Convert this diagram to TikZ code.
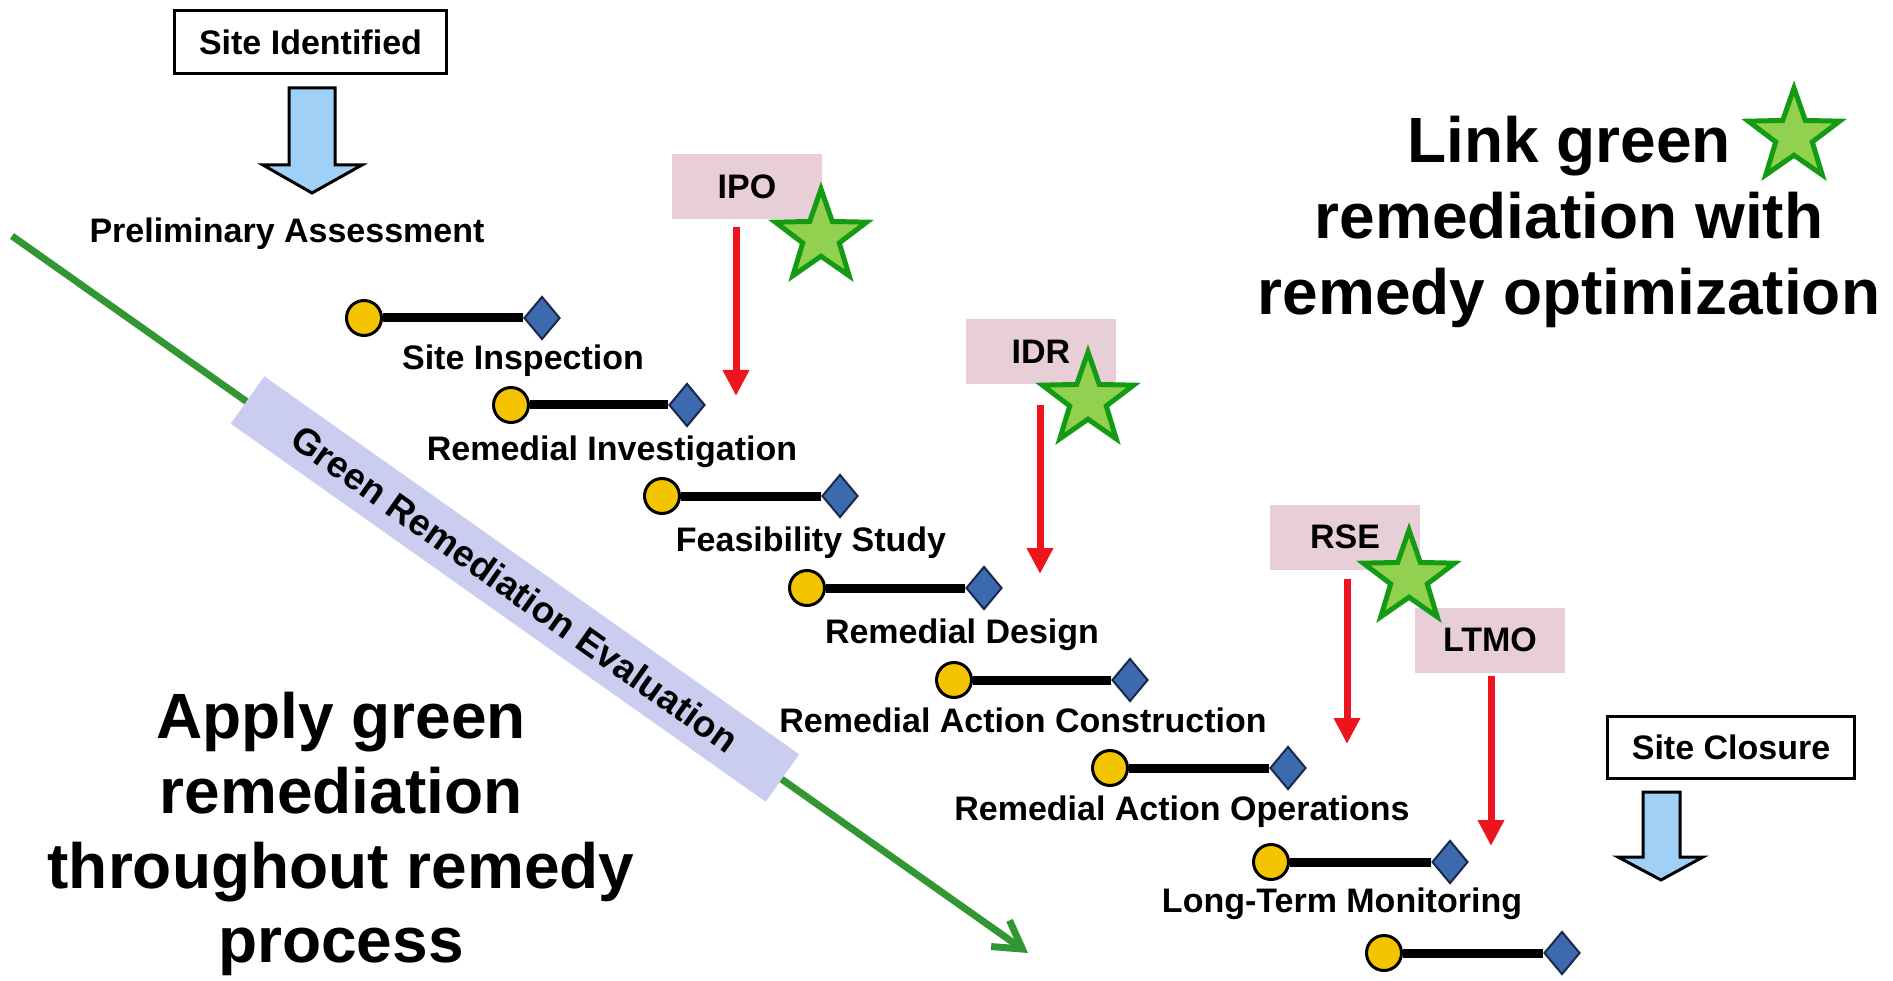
\documentclass[tikz,border=0pt]{standalone}
\usepackage{fontspec}
\setmainfont{Liberation Sans}
\usetikzlibrary{shapes.geometric,arrows.meta}
\definecolor{gold}{RGB}{245,196,0}
\definecolor{steel}{RGB}{61,106,175}
\definecolor{navyline}{RGB}{25,40,75}
\definecolor{tagpink}{RGB}{232,206,214}
\definecolor{bandcol}{RGB}{203,205,240}
\definecolor{glinecol}{RGB}{50,150,50}
\definecolor{starfill}{RGB}{146,208,80}
\definecolor{starline}{RGB}{20,155,20}
\definecolor{arrred}{RGB}{238,20,30}
\definecolor{arrblue}{RGB}{160,208,245}
\begin{document}
\begin{tikzpicture}[x=1pt,y=-1pt,
  lbl/.style={font=\fontsize{34}{40}\selectfont\bfseries, inner sep=0pt, anchor=base},
  big/.style={font=\fontsize{64}{76}\selectfont\bfseries, inner sep=0pt, anchor=base},
  frame/.style={draw=black, line width=3pt, fill=white, inner sep=0pt, font=\fontsize{34}{40}\selectfont\bfseries},
  tagbox/.style={fill=tagpink, minimum width=150pt, minimum height=65pt, inner sep=0pt, font=\fontsize{34}{40}\selectfont\bfseries},
  mscirc/.style={circle, draw=black, line width=3pt, fill=gold, minimum size=35pt, inner sep=0pt},
  msdiam/.style={diamond, draw=navyline, line width=2pt, fill=steel, minimum width=36pt, minimum height=43pt, inner sep=0pt},
  msbar/.style={line width=9pt, draw=black},
  gstar/.style={star, star points=5, star point ratio=2.5, minimum size=96pt, inner sep=0pt, fill=starfill, draw=starline, line width=5pt},
  redarr/.style={draw=arrred, line width=7pt, -{Triangle[length=26pt,width=25pt]}},
  blockarr/.style={draw=black, line width=3pt, fill=arrblue, line join=miter},
  band/.style={fill=bandcol, minimum width=655pt, minimum height=58pt, inner sep=0pt, font=\fontsize{37}{42}\selectfont\bfseries},
  greenarr/.style={draw=glinecol, line width=7pt, -{Straight Barb[length=27pt,width=32pt]}}
]
\useasboundingbox (0,0) rectangle (1893,981);
\fill[white] (0,0) rectangle (1893,981);

% green evaluation line and band
\coordinate (gstart) at (12,236);
\coordinate (gend) at (1028,953);
\draw[greenarr] (gstart) -- (gend);
\node[band, rotate=-35.25] (gre) at (515,589) {Green Remediation Evaluation};

% start and end boxes with block arrows
\node[frame, minimum width=272pt, minimum height=63pt] (siteid) at (310.5,42) {Site Identified};
\draw[blockarr] (289,88) -- (335,88) -- (335,165) -- (362,165) -- (312,193) -- (263,165) -- (289,165) -- cycle;
\node[frame, minimum width=247pt, minimum height=62pt] (siteclose) at (1731,747.5) {Site Closure};
\draw[blockarr] (1643,792) -- (1680,792) -- (1680,857) -- (1703,857) -- (1661,880) -- (1618,857) -- (1643,857) -- cycle;

% milestones
\foreach \i/\cx/\dx/\y in {1/364/542/318, 2/511/687/405, 3/662/840/496, 4/807/984/588, 5/954/1130/680, 6/1110/1288/768, 7/1271/1450/862, 8/1384/1562/953} {
  \node[mscirc] (c\i) at (\cx,\y) {};
  \node[msdiam] (d\i) at (\dx,\y) {};
  \draw[msbar] (c\i) -- (d\i);
}

% phase labels
\node[lbl] (pa) at (287,243) {Preliminary Assessment};
\node[lbl] (si) at (523,370) {Site Inspection};
\node[lbl] (ri) at (612,460) {Remedial Investigation};
\node[lbl] (fs) at (811,551) {Feasibility Study};
\node[lbl] (rd) at (962,643) {Remedial Design};
\node[lbl] (rac) at (1023,732) {Remedial Action Construction};
\node[lbl] (rao) at (1182,820) {Remedial Action Operations};
\node[lbl] (ltm) at (1342,912) {Long-Term Monitoring};

% optimization tags
\node[tagbox] (ipo) at (747,187) {IPO};
\node[tagbox] (idr) at (1041,352) {IDR};
\node[tagbox] (rse) at (1345,537) {RSE};
\node[tagbox] (ltmo) at (1490,640) {LTMO};

\coordinate (ipoE) at (736,396);
\coordinate (idrE) at (1040,574);
\coordinate (rseE) at (1347,744);
\coordinate (ltmoE) at (1491,846);
\draw[redarr, shorten <=7pt] (ipo.south -| ipoE) -- (ipoE);
\draw[redarr, shorten <=20pt] (idr.south -| idrE) -- (idrE);
\draw[redarr, shorten <=9pt] (rse.south -| rseE) -- (rseE);
\draw[redarr, shorten <=3pt] (ltmo.south -| ltmoE) -- (ltmoE);

% stars
\node[gstar] (s1) at (821,237) {};
\node[gstar] (s2) at (1088,400) {};
\node[gstar] (s3) at (1409,578) {};
\node[gstar] (s4) at (1794,136) {};

% headline texts
\node[big] (r1) at (1569,163) {Link green};
\node[big] (r2) at (1569,239) {remediation with};
\node[big] (r3) at (1569,315) {remedy optimization};
\node[big] (l1) at (341,738) {Apply green};
\node[big] (l2) at (341,813) {remediation};
\node[big] (l3) at (341,888) {throughout remedy};
\node[big] (l4) at (341,962) {process};
\end{tikzpicture}
\end{document}
